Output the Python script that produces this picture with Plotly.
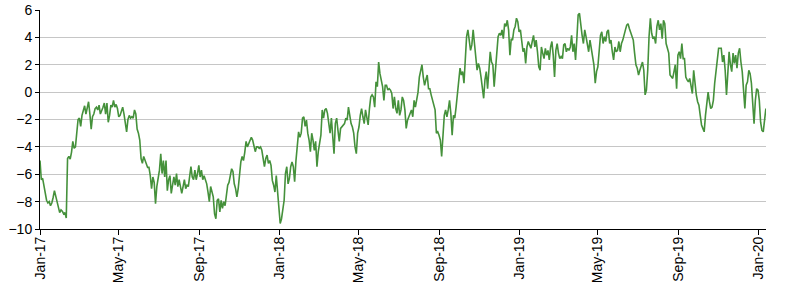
import pandas as pd
import plotly.graph_objects as go

# Values, every 2 calendar days starting 2017-01-01
seg_2017a = [-5.0, -6.4, -6.3, -6.8, -7.4, -7.9, -8.1, -8.0, -8.3, -8.1, -7.7, -7.2, -7.6, -8.0, -8.3, -8.8, -8.6, -8.7, -8.9, -8.8, -9.2,
             -4.85, -4.7, -4.9, -4.4, -3.6, -4.1, -4.0, -3.0, -2.0, -1.9, -2.5, -1.7, -1.3, -1.0, -1.6, -1.1, -0.7, -1.6, -2.7,
             -1.8, -1.6, -1.2, -1.1, -1.3, -0.95, -1.6, -1.4, -1.1, -0.8, -1.6, -0.8, -2.2, -1.7, -0.95, -1.1, -0.6, -1.1, -0.9,
             -1.2, -1.8, -1.7, -1.3, -1.1, -1.6, -2.3, -2.9, -2.0, -1.7, -1.9, -1.8, -1.9, -1.3, -1.6, -2.7, -3.0, -3.5]
seg_2017b = [-4.85, -5.2, -4.7, -5.0, -5.3, -5.5, -5.5, -6.1, -7.05, -6.2, -6.6, -8.15, -6.9, -6.2, -5.7, -4.5, -5.95, -5.0, -6.2, -5.0,
             -7.2, -6.4, -6.1, -7.4, -6.6, -6.2, -6.8, -5.95, -6.9, -6.4, -6.9, -7.4, -6.9, -6.4, -7.05, -6.8, -6.9, -5.95, -5.45, -6.2,
             -6.4, -5.7, -6.4, -5.95, -5.35, -6.2, -5.7, -6.4, -6.1, -6.4, -6.7, -7.3, -8.0, -6.9, -7.2, -7.65, -8.9, -9.25, -7.9, -7.8,
             -8.75, -7.9, -8.5, -8.0, -8.3, -7.4, -6.8, -6.6, -6.2, -5.6, -5.8, -6.7, -7.05, -7.65, -7.05, -5.95, -5.1, -4.7, -5.0, -4.4,
             -3.6, -4.0, -3.75, -3.4, -3.3, -3.5, -4.0, -4.35, -4.0, -4.0, -4.1]
seg_2018a = [-4.0, -4.25, -5.0, -5.45, -4.85, -4.6, -5.2, -5.0, -5.35, -6.45, -6.8, -7.3, -6.1, -7.4, -8.9, -9.6, -9.25, -8.65, -7.9,
             -5.95, -5.45, -6.7, -6.3, -5.45, -5.1, -5.45, -6.55, -5.0, -4.1, -2.9, -3.3, -3.0, -1.9, -1.8, -2.5, -2.05, -3.0, -3.5,
             -4.35, -3.0, -3.5, -4.25, -3.6, -5.45, -4.35, -3.6, -3.15, -1.3, -1.9, -1.3, -1.2, -1.55, -2.5, -3.0, -1.9, -3.4, -4.5,
             -2.3, -1.9, -2.8, -3.6, -2.65, -2.55, -2.4, -2.3, -1.9, -2.05, -1.1, -1.7, -2.3, -2.55, -3.0, -4.0, -4.5, -3.0, -2.55,
             -1.7, -1.2, -1.8, -2.3, -1.3, -1.9, -2.4, -1.2, -0.35, -0.2, -0.35, -1.1, 0.75, 0.4, 2.2, 1.35, 0.9, 0.4, -0.6, 0.5,
             0.5, 0.15, 0.25]
seg_2018b = [0.15, -0.1, -1.2, -0.35, -1.2, -1.55, -0.6, -1.7, -1.3, -0.35, -0.6, -1.3, -2.65, -2.05, -1.8, -1.55, -1.3, -1.8, -0.6,
             -1.1, -0.45, 0.0, 1.1, 1.5, 2.0, 1.1, 0.5, 0.9, 1.25, 0.25, 0.25, -0.2, -0.6, -0.95, -1.3, -3.0, -2.9, -3.15, -3.5, -4.7,
             -3.0, -1.7, -1.3, -1.8, -1.3, -0.6, -1.55, -3.15, -1.7, -1.9, -1.1, -0.1, 0.4, 1.75, 1.25, 1.5, 0.65, 2.45, 4.05, 4.55,
             3.8, 3.05, 3.45, 4.55, 3.55, 2.2, 1.6, 2.1, 1.75, 1.1, 0.15, -0.45, 0.9, 1.5, 0.25, 1.35, 2.95, 2.2, 2.0, 0.4, 1.5, 2.6,
             4.05, 4.3, 4.15, 4.55, 3.9, 5.0, 4.8, 5.25, 4.55, 2.7, 3.9, 3.8, 4.55, 4.8, 5.4, 5.15, 4.4]
seg_2019a = [4.55, 3.9, 2.95, 3.2, 2.1, 3.3, 3.7, 3.45, 3.2, 3.7, 4.15, 3.3, 3.8, 2.95, 1.85, 1.6, 3.3, 2.85, 2.45, 3.2, 2.7, 3.05,
             2.35, 3.3, 3.7, 2.7, 1.1, 3.05, 3.55, 2.85, 2.45, 2.6, 2.45, 3.45, 3.55, 2.95, 3.2, 3.05, 3.3, 4.15, 2.95, 3.55, 2.35,
             3.9, 5.65, 5.75, 4.8, 4.15, 3.55, 4.55, 4.05, 3.55, 2.95, 3.8, 3.2, 2.45, 2.0, 0.65, 1.5, 1.85, 2.95, 4.15, 4.4, 3.55,
             4.05, 3.7, 4.4, 4.55, 3.55, 3.8, 2.95, 2.35, 3.3, 2.95, 3.05, 3.7, 2.95, 3.55, 3.8, 4.3, 4.55, 4.9, 5.0, 4.65, 4.4, 4.05,
             3.8, 2.85, 2.0, 1.75, 1.25, 1.6, 1.85, 2.2, 1.6, -0.2, 0.15, 1.6, 4.05, 5.4]
seg_2019b = [4.3, 3.9, 4.05, 3.55, 4.8, 5.25, 4.55, 5.0, 3.9, 5.25, 5.0, 3.55, 3.2, 2.85, 1.25, 1.1, 1.0, 1.5, 2.0, 0.25, 2.7, 2.95,
             2.45, 3.55, 2.45, 2.45, 1.1, 0.9, 0.75, 1.0, 0.5, -0.1, 1.6, 0.65, -0.2, -0.7, -0.95, -1.7, -2.4, -2.65, -2.9, -1.7, -0.6,
             0.0, -0.7, -1.2, -1.1, -0.6, 0.65, 1.5, 2.45, 3.2, 3.2, 3.2, 2.2, 2.7, 1.6, -0.2, 1.35, 2.95, 2.0, 1.5, 2.85, 2.1, 2.7,
             1.75, 2.85, 3.2, 2.2, 1.5, 0.15, -1.2, 0.5, 0.75, 1.6, 1.35, 0.65, -0.95, -2.3, -0.6, 0.25, 0.15, -0.6, -2.2, -2.8, -2.9,
             -1.8, -1.2]

values = seg_2017a + seg_2017b + seg_2018a + seg_2018b + seg_2019a + seg_2019b
dates = pd.date_range("2017-01-01", periods=len(values), freq="2D")

tick_dates = ["2017-01-01", "2017-05-01", "2017-09-01", "2018-01-01", "2018-05-01", "2018-09-01",
              "2019-01-01", "2019-05-01", "2019-09-01", "2020-01-01"]
tick_labels = ["Jan-17", "May-17", "Sep-17", "Jan-18", "May-18", "Sep-18",
               "Jan-19", "May-19", "Sep-19", "Jan-20"]
y_ticks = [-10, -8, -6, -4, -2, 0, 2, 4, 6]

fig = go.Figure()
fig.add_trace(go.Scatter(x=dates, y=values, mode="lines",
                         line=dict(color="#45913b", width=1.6), showlegend=False))

font = dict(family="Liberation Sans, Arial, sans-serif", size=14, color="#000000")
fig.update_layout(
    width=800, height=293,
    margin=dict(l=40, r=34, t=10, b=64),
    paper_bgcolor="white", plot_bgcolor="white",
    font=font,
)
fig.update_xaxes(
    range=["2017-01-01", "2020-01-12 05:00"],
    tickvals=tick_dates, ticktext=tick_labels, tickangle=-90,
    showline=True, linecolor="black", linewidth=1,
    ticks="outside", ticklen=5, tickcolor="black", tickwidth=1,
    ticklabelstandoff=-4,
    showgrid=False, zeroline=False, tickfont=font, automargin=False,
)
fig.update_yaxes(
    range=[-10, 6], tickvals=y_ticks,
    showline=True, linecolor="black", linewidth=1,
    ticks="outside", ticklen=4, tickcolor="black", tickwidth=1,
    showgrid=True, gridcolor="#c6c6c6", gridwidth=1.3,
    zeroline=False, tickfont=font, automargin=False,
)
fig.write_html("out.html")
